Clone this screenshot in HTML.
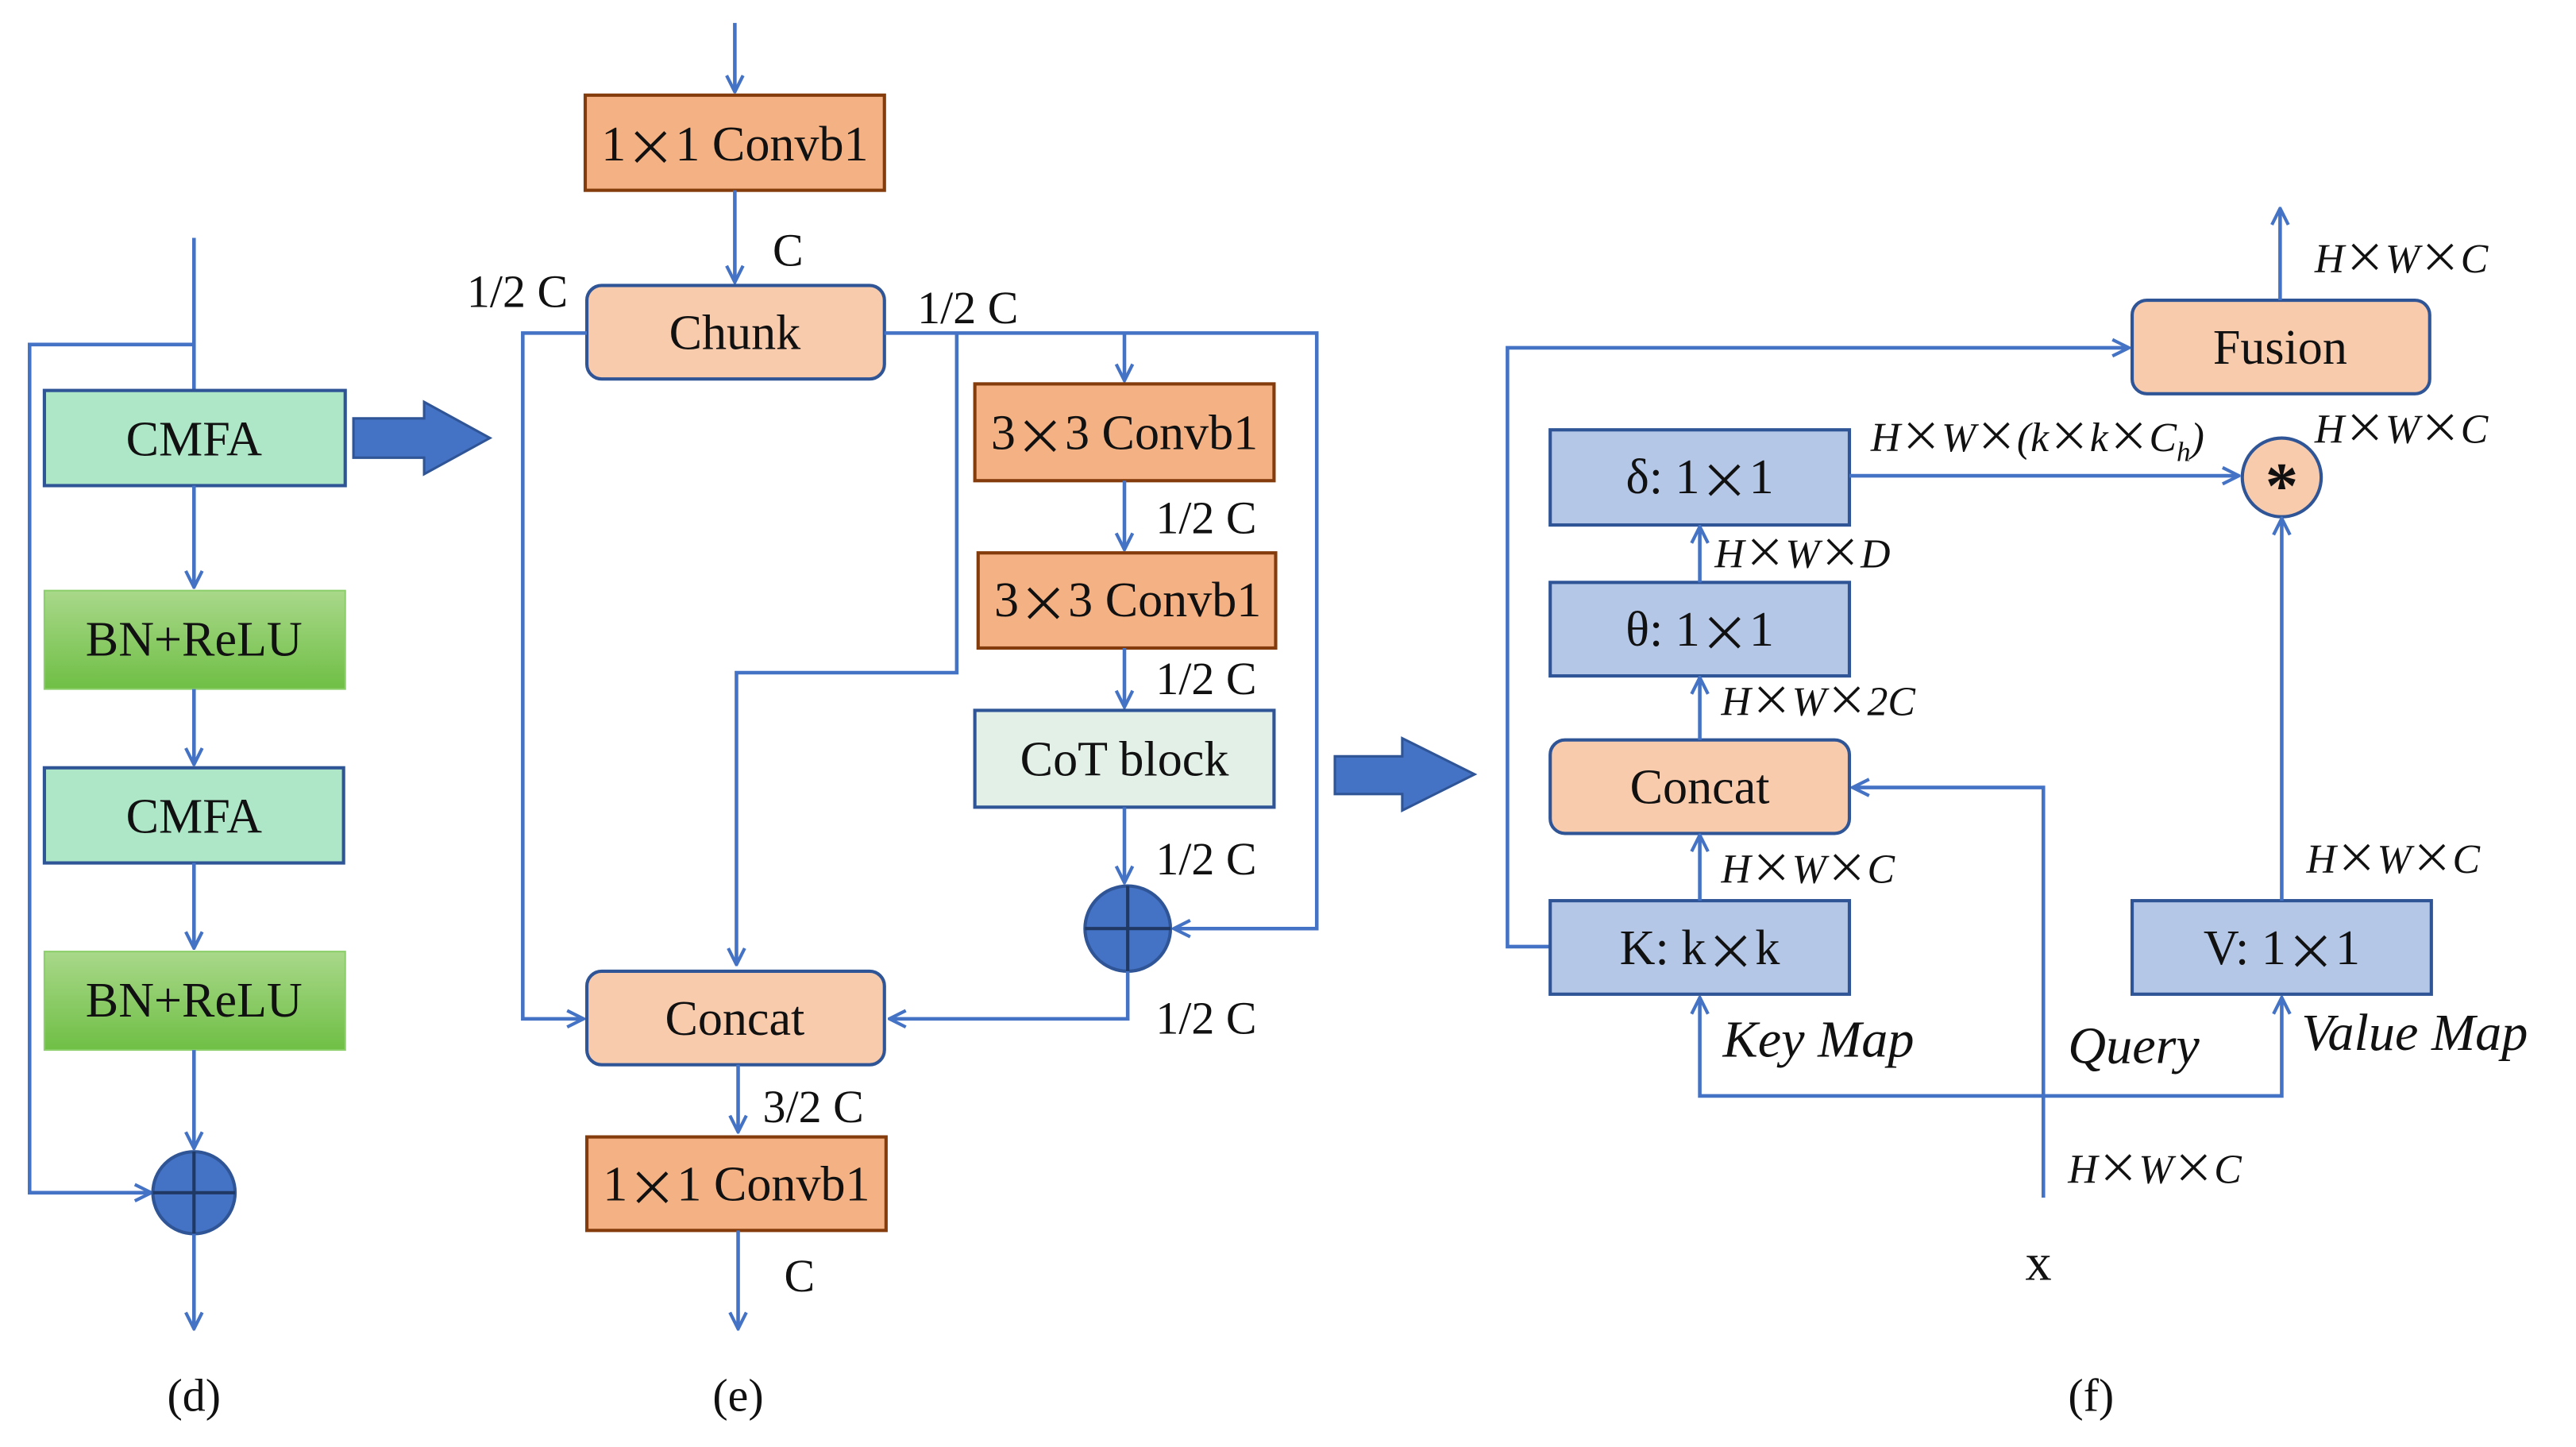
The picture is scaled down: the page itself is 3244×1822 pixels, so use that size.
<!DOCTYPE html>
<html><head><meta charset="utf-8"><style>
html,body{margin:0;padding:0;background:#fff;}
svg{display:block;}
text{font-family:"Liberation Serif",serif;fill:#111;}
.b{font-size:30px;text-anchor:middle;dominant-baseline:central;}
.l{font-size:28px;}
.i{font-size:25px;font-style:italic;}
.x{font-family:"Noto Sans CJK SC",sans-serif;font-style:normal;}
.ln{stroke:#4472c4;stroke-width:2.2;fill:none;}
</style></head><body>
<svg width="3244" height="1822" viewBox="0 0 1567 882" preserveAspectRatio="none" xmlns="http://www.w3.org/2000/svg">
<defs>
<marker id="a" viewBox="0 0 12 12" refX="11" refY="6" markerWidth="12" markerHeight="12" markerUnits="userSpaceOnUse" orient="auto">
<path d="M1,1 L11,6 L1,11" fill="none" stroke="#4472c4" stroke-width="2"/></marker>
<linearGradient id="g" x1="0" y1="0" x2="0" y2="1"><stop offset="0" stop-color="#a9d88a"/><stop offset="1" stop-color="#6fbf45"/></linearGradient>
</defs>

<!-- (d) -->
<path class="ln" d="M118,145 V238"/>
<path class="ln" d="M118,210 H18 V727 H92" marker-end="url(#a)"/>
<rect x="27" y="238" width="183" height="58" fill="#aee6c8" stroke="#2f5597" stroke-width="2"/>
<text class="b" x="118" y="268">CMFA</text>
<path class="ln" d="M118,296 V358" marker-end="url(#a)"/>
<rect x="27" y="360" width="183" height="60" fill="url(#g)" stroke="#8ccf6a" stroke-width="1"/>
<text class="b" x="118" y="390">BN+ReLU</text>
<path class="ln" d="M118,420 V466" marker-end="url(#a)"/>
<rect x="27" y="468" width="182" height="58" fill="#aee6c8" stroke="#2f5597" stroke-width="2"/>
<text class="b" x="118" y="498">CMFA</text>
<path class="ln" d="M118,526 V578" marker-end="url(#a)"/>
<rect x="27" y="580" width="183" height="60" fill="url(#g)" stroke="#8ccf6a" stroke-width="1"/>
<text class="b" x="118" y="610">BN+ReLU</text>
<path class="ln" d="M118,640 V700" marker-end="url(#a)"/>
<circle cx="118" cy="727" r="25" fill="#4472c4" stroke="#2f5597" stroke-width="2"/>
<path d="M93,727 H143 M118,702 V752" stroke="#1f3864" stroke-width="2"/>
<path class="ln" d="M118,752 V810" marker-end="url(#a)"/>
<text class="l" x="118" y="860" text-anchor="middle">(d)</text>
<path d="M215,255 H258 V245 L298,267 L258,289 V279 H215 Z" fill="#4472c4" stroke="#2f5597" stroke-width="1.5"/>

<!-- (e) -->
<path class="ln" d="M447,14 V56" marker-end="url(#a)"/>
<rect x="356" y="58" width="182" height="58" fill="#f4b183" stroke="#843c0c" stroke-width="2"/>
<text class="b" x="447" y="88">1<tspan class="x">×</tspan>1 Convb1</text>
<path class="ln" d="M447,116 V172" marker-end="url(#a)"/>
<text class="l" x="470" y="162">C</text>
<rect x="357" y="174" width="181" height="57" rx="9" fill="#f8cbad" stroke="#2f5597" stroke-width="2"/>
<text class="b" x="447" y="203">Chunk</text>
<text class="l" x="284" y="187">1/2 C</text>
<text class="l" x="558" y="197">1/2 C</text>
<path class="ln" d="M357,203 H318 V621 H355" marker-end="url(#a)"/>
<path class="ln" d="M538,203 H801 V566 H714" marker-end="url(#a)"/>
<path class="ln" d="M582,203 V410 H448 V588" marker-end="url(#a)"/>
<path class="ln" d="M684,203 V232" marker-end="url(#a)"/>
<rect x="593" y="234" width="182" height="59" fill="#f4b183" stroke="#843c0c" stroke-width="2"/>
<text class="b" x="684" y="264">3<tspan class="x">×</tspan>3 Convb1</text>
<path class="ln" d="M684,293 V335" marker-end="url(#a)"/>
<text class="l" x="703" y="325">1/2 C</text>
<rect x="595" y="337" width="181" height="58" fill="#f4b183" stroke="#843c0c" stroke-width="2"/>
<text class="b" x="686" y="366">3<tspan class="x">×</tspan>3 Convb1</text>
<path class="ln" d="M684,395 V431" marker-end="url(#a)"/>
<text class="l" x="703" y="423">1/2 C</text>
<rect x="593" y="433" width="182" height="59" fill="#e2f0e8" stroke="#2f5597" stroke-width="2"/>
<text class="b" x="684" y="463">CoT block</text>
<path class="ln" d="M684,492 V538" marker-end="url(#a)"/>
<text class="l" x="703" y="533">1/2 C</text>
<circle cx="686" cy="566" r="26" fill="#4472c4" stroke="#2f5597" stroke-width="2"/>
<path d="M660,566 H712 M686,540 V592" stroke="#1f3864" stroke-width="2"/>
<path class="ln" d="M686,592 V621 H541" marker-end="url(#a)"/>
<text class="l" x="703" y="630">1/2 C</text>
<rect x="357" y="592" width="181" height="57" rx="9" fill="#f8cbad" stroke="#2f5597" stroke-width="2"/>
<text class="b" x="447" y="621">Concat</text>
<path class="ln" d="M449,649 V690" marker-end="url(#a)"/>
<text class="l" x="464" y="684">3/2 C</text>
<rect x="357" y="693" width="182" height="57" fill="#f4b183" stroke="#843c0c" stroke-width="2"/>
<text class="b" x="448" y="722">1<tspan class="x">×</tspan>1 Convb1</text>
<path class="ln" d="M449,750 V810" marker-end="url(#a)"/>
<text class="l" x="477" y="787">C</text>
<text class="l" x="449" y="860" text-anchor="middle">(e)</text>
<path d="M812,461 H853 V450 L897,472 L853,494 V484 H812 Z" fill="#4472c4" stroke="#2f5597" stroke-width="1.5"/>

<!-- (f) -->
<rect x="1297" y="183" width="181" height="57" rx="9" fill="#f8cbad" stroke="#2f5597" stroke-width="2"/>
<text class="b" x="1387" y="212">Fusion</text>
<path class="ln" d="M1387,183 V127" marker-end="url(#a)"/>
<text class="i" x="1408" y="166">H<tspan class="x">×</tspan>W<tspan class="x">×</tspan>C</text>
<path class="ln" d="M943,577 H917 V212 H1295" marker-end="url(#a)"/>
<rect x="943" y="262" width="182" height="58" fill="#b4c7e7" stroke="#2f5597" stroke-width="2"/>
<text class="b" x="1034" y="291">δ: 1<tspan class="x">×</tspan>1</text>
<path class="ln" d="M1125,290 H1362" marker-end="url(#a)"/>
<text class="i" x="1138" y="275">H<tspan class="x">×</tspan>W<tspan class="x">×</tspan>(k<tspan class="x">×</tspan>k<tspan class="x">×</tspan>C<tspan font-size="17" dy="6">h</tspan><tspan dy="-6">)</tspan></text>
<circle cx="1388" cy="291" r="24" fill="#f8cbad" stroke="#2f5597" stroke-width="2"/>
<text x="1388" y="296" font-size="40" font-weight="bold" text-anchor="middle" dominant-baseline="central">*</text>
<text class="i" x="1408" y="270">H<tspan class="x">×</tspan>W<tspan class="x">×</tspan>C</text>
<rect x="943" y="355" width="182" height="57" fill="#b4c7e7" stroke="#2f5597" stroke-width="2"/>
<text class="b" x="1034" y="384">θ: 1<tspan class="x">×</tspan>1</text>
<path class="ln" d="M1034,355 V321" marker-end="url(#a)"/>
<text class="i" x="1043" y="346">H<tspan class="x">×</tspan>W<tspan class="x">×</tspan>D</text>
<rect x="943" y="451" width="182" height="57" rx="9" fill="#f8cbad" stroke="#2f5597" stroke-width="2"/>
<text class="b" x="1034" y="480">Concat</text>
<path class="ln" d="M1034,451 V413" marker-end="url(#a)"/>
<text class="i" x="1047" y="436">H<tspan class="x">×</tspan>W<tspan class="x">×</tspan>2C</text>
<rect x="943" y="549" width="182" height="57" fill="#b4c7e7" stroke="#2f5597" stroke-width="2"/>
<text class="b" x="1034" y="578">K: k<tspan class="x">×</tspan>k</text>
<path class="ln" d="M1034,549 V509" marker-end="url(#a)"/>
<text class="i" x="1047" y="538">H<tspan class="x">×</tspan>W<tspan class="x">×</tspan>C</text>
<path class="ln" d="M1243,730 V480 H1127" marker-end="url(#a)"/>
<rect x="1297" y="549" width="182" height="57" fill="#b4c7e7" stroke="#2f5597" stroke-width="2"/>
<text class="b" x="1388" y="578">V: 1<tspan class="x">×</tspan>1</text>
<path class="ln" d="M1388,549 V316" marker-end="url(#a)"/>
<text class="i" x="1403" y="532">H<tspan class="x">×</tspan>W<tspan class="x">×</tspan>C</text>
<path class="ln" d="M1243,668 H1034 V608" marker-end="url(#a)"/>
<path class="ln" d="M1243,668 H1388 V608" marker-end="url(#a)"/>
<text x="1048" y="644" font-size="32" font-style="italic">Key Map</text>
<text x="1258" y="648" font-size="32" font-style="italic">Query</text>
<text x="1400" y="640" font-size="32" font-style="italic">Value Map</text>
<text class="i" x="1258" y="721">H<tspan class="x">×</tspan>W<tspan class="x">×</tspan>C</text>
<text x="1240" y="780" font-size="32" text-anchor="middle">x</text>
<text class="l" x="1272" y="860" text-anchor="middle">(f)</text>
</svg>
</body></html>
